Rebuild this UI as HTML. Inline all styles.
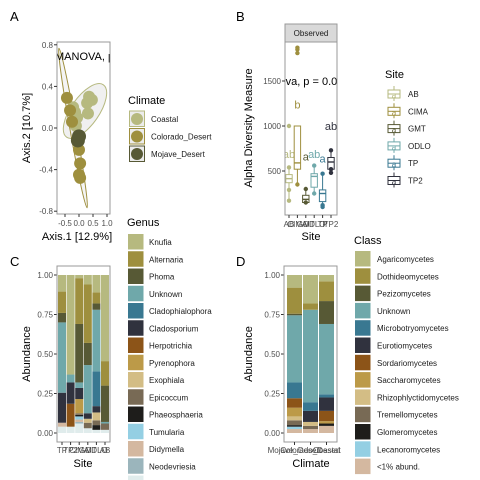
<!DOCTYPE html>
<html><head><meta charset="utf-8"><style>
html,body{margin:0;padding:0;background:#fff;}
svg{display:block;font-family:"Liberation Sans",Arial,sans-serif;}
.tk{font-size:8px;fill:#4d4d4d;}
.at{font-size:11px;fill:#000;}
.lg{font-size:8px;fill:#1a1a1a;}
.lt{font-size:11px;fill:#000;}
.pl{font-size:13px;fill:#000;}
</style></head><body>
<svg id="fig" width="480" height="480" viewBox="0 0 480 480">
<defs>
<clipPath id="clipA"><rect x="57" y="42" width="53" height="172"/></clipPath>
<clipPath id="clipB"><rect x="285" y="42" width="52" height="173"/></clipPath>
</defs>
<text class="pl" x="10" y="21">A</text>
<text class="pl" x="236" y="21">B</text>
<text class="pl" x="10" y="266">C</text>
<text class="pl" x="236" y="266">D</text>
<g id="gA"></g>
<g id="gB"></g>
<g id="gC"></g>
<g id="gD"></g>
</svg>
<script>
// ---------- Panel A data ----------
const climates = ["Coastal","Colorado_Desert","Mojave_Desert"];
const climateColors = ["#b6b97f","#9e8f3e","#575935"];
const ordX = [0.36,0.46,0.29,0.32,-0.21,-0.14,-0.07,-0.11, -0.43,-0.32,-0.25,0.0,0.04,0.0,0.04, 0.0,-0.04];
const ordY = [0.30,0.27,0.24,0.14,0.20,0.15,0.10,0.02, 0.29,0.17,0.06,-0.21,-0.34,-0.45,-0.48, -0.08,-0.12];
const ordGroup = [0,0,0,0,0,0,0,0, 1,1,1,1,1,1,1, 2,2];
const aXTicks = [-0.5,0.0,0.5,1.0];
const aXTickLabels = ["-0.5","0.0","0.5","1.0"];
const aYTicks = [0.8,0.4,0.0,-0.4,-0.8];
const aYTickLabels = ["0.8","0.4","0.0","-0.4","-0.8"];
// ---------- Panel B data ----------
const sites = ["AB","CIMA","GMT","ODLO","TP","TP2"];
const siteColors = ["#b6b97f","#9e8f3e","#575935","#6fa8aa","#397891","#30323e"];
const boxLow = [170,350,140,250,100,480];
const boxQ1 = [370,520,150,320,160,520];
const boxMed = [415,590,185,440,250,600];
const boxQ3 = [460,1000,230,470,290,650];
const boxHigh = [540,1000,300,560,470,730];
const sitePointsY = [[1000,540,290,170],[1810,1850,1870,350],[300,150],[560,250],[470,100,120],[730,480,520]];
const siteLetters = ["ab","b","a","ab","a","ab"];
const siteLetterY = [690,1240,660,690,640,1000];
const bYTicks = [500,1000,1500];
const bYTickLabels = ["500","1000","1500"];
// ---------- Panel C data ----------
const genera = ["Knufia","Alternaria","Phoma","Unknown","Cladophialophora","Cladosporium","Herpotrichia","Pyrenophora","Exophiala","Epicoccum","Phaeosphaeria","Tumularia","Didymella","Neodevriesia","Other"];
const genusColors = ["#b6b97f","#9e8f3e","#575935","#6fa8aa","#397891","#30323e","#8c5418","#bc9a48","#d3bd85","#786a55","#1e1d1b","#94cfe3","#d4b8a0","#9bb5bc","#e0ecec"];
const cSites = ["TP","TP2","CIMA","GMT","ODLO","AB"];
const cKnufia   = [0.105,0.63,0.02,0.06,0.11,0.545];
const cAltern   = [0.135,0,0.29,0.37,0.07,0.155];
const cPhoma    = [0.06,0,0.37,0.14,0.04,0.23];
const cUnknown  = [0.445,0.05,0.035,0.305,0.39,0.01];
const cCladoph  = [0,0,0,0,0.22,0];
const cClados   = [0.19,0.135,0.07,0.035,0.04,0];
const cHerpo    = [0,0.145,0,0,0,0];
const cPyreno   = [0,0,0.09,0,0,0];
const cExoph    = [0,0,0,0.025,0.05,0];
const cEpico    = [0,0,0.01,0.035,0.03,0.04];
const cPhaeo    = [0,0,0.01,0,0.03,0];
const cTumul    = [0,0,0.02,0,0,0];
const cDidym    = [0.025,0,0.015,0,0,0];
const cNeode    = [0,0,0.01,0,0,0];
const cOther    = [0.04,0.04,0.06,0.03,0.02,0.02];
const cSeries = [cKnufia,cAltern,cPhoma,cUnknown,cCladoph,cClados,cHerpo,cPyreno,cExoph,cEpico,cPhaeo,cTumul,cDidym,cNeode,cOther];
const abTicks = [0,0.25,0.5,0.75,1.0];
const abTickLabels = ["0.00","0.25","0.50","0.75","1.00"];
// ---------- Panel D data ----------
const classes = ["Agaricomycetes","Dothideomycetes","Pezizomycetes","Unknown","Microbotryomycetes","Eurotiomycetes","Sordariomycetes","Saccharomycetes","Rhizophlyctidomycetes","Tremellomycetes","Glomeromycetes","Lecanoromycetes","<1% abund."];
const classColors = ["#b6b97f","#9e8f3e","#575935","#6fa8aa","#397891","#30323e","#8c5418","#bc9a48","#d3bd85","#786a55","#1e1d1b","#94cfe3","#d4b8a0"];
const dClimates = ["Mojave_Desert","Colorado_Desert","Coastal"];
const dAgar = [0.08,0.18,0.04];
const dDoth = [0.165,0.04,0.125];
const dPezi = [0.01,0,0.145];
const dUnkn = [0.425,0.585,0.445];
const dMicr = [0.10,0.055,0.02];
const dEuro = [0,0.07,0.085];
const dSord = [0.06,0,0.065];
const dSacc = [0.055,0,0.015];
const dRhiz = [0.025,0.025,0];
const dTrem = [0.03,0.02,0];
const dGlom = [0.01,0,0.015];
const dLeca = [0.015,0,0];
const dLow  = [0.025,0.025,0.045];
const dSeries = [dAgar,dDoth,dPezi,dUnkn,dMicr,dEuro,dSord,dSacc,dRhiz,dTrem,dGlom,dLeca,dLow];

const NS="http://www.w3.org/2000/svg";
function mk(parent,tag,attrs,text){const e=document.createElementNS(NS,tag);for(const k in attrs)e.setAttribute(k,attrs[k]);if(text!==undefined)e.textContent=text;parent.appendChild(e);return e;}

// ===== Panel A =====
(function(){
const g=document.getElementById('gA');
const xA=v=>79+v*28, yA=v=>128-v*104;
const pg=mk(g,'g',{'clip-path':'url(#clipA)'});


let e1=mk(pg,'ellipse',{cx:85,cy:111,rx:32,ry:14,transform:'rotate(-55 85 111)',fill:'#ececec','fill-opacity':0.8,stroke:'#b6b97f','stroke-width':1});

let e2=mk(pg,'ellipse',{cx:73,cy:128,rx:81,ry:3.2,transform:'rotate(80 73 128)',fill:'#ececec','fill-opacity':0.6,stroke:'#9e8f3e','stroke-width':1});

for(let i=0;i<ordX.length;i++){
 const c=mk(pg,'circle',{cx:xA(ordX[i]),cy:yA(ordY[i]),r:ordGroup[i]==2?7:6,fill:climateColors[ordGroup[i]]});
 
}
const mt=mk(pg,'text',{x:55,y:60,'font-size':'11px',fill:'#000'},'MANOVA, p');

const fr=mk(g,'rect',{x:57,y:42,width:53,height:172,fill:'none',stroke:'#999','stroke-width':1});

aYTicks.forEach((v,i)=>{mk(g,'line',{x1:54,x2:57,y1:yA(v),y2:yA(v),stroke:'#333'});
 const t=mk(g,'text',{class:'tk',x:53,y:yA(v)+3,'text-anchor':'end'},aYTickLabels[i]);
 });
aXTicks.forEach((v,i)=>{mk(g,'line',{x1:xA(v),x2:xA(v),y1:214,y2:217,stroke:'#333'});
 const t=mk(g,'text',{class:'tk',x:xA(v),y:226,'text-anchor':'middle'},aXTickLabels[i]);
 });
let t=mk(g,'text',{class:'at',x:77,y:240,'text-anchor':'middle'},'Axis.1   [12.9%]');

t=mk(g,'text',{class:'at',x:0,y:0,'text-anchor':'middle',transform:'translate(30 128) rotate(-90)'},'Axis.2   [10.7%]');

t=mk(g,'text',{class:'lt',x:128,y:104},'Climate');

climates.forEach((c,i)=>{const y=111+i*17.5;
 const lg=mk(g,'g',{});
 mk(lg,'rect',{x:129.5,y:y,width:15,height:15.5,fill:'#ececec',stroke:climateColors[i],'stroke-width':1});
 mk(lg,'circle',{cx:137,cy:y+8,r:6,fill:climateColors[i]});
 mk(lg,'text',{class:'lg',x:151,y:y+11},c);});
})();

// ===== Panel B =====
(function(){
const g=document.getElementById('gB');
const yB=v=>216-v*0.09, xB=i=>289+i*8.4;
let s=mk(g,'rect',{x:285,y:24,width:52,height:18,fill:'#d9d9d9',stroke:'#999'});

let t=mk(g,'text',{x:311,y:36,'text-anchor':'middle','font-size':'8px',fill:'#1a1a1a'},'Observed');

const pg=mk(g,'g',{'clip-path':'url(#clipB)'});
sites.forEach((st,i)=>{const x=xB(i),c=siteColors[i];
 const bx=mk(pg,'g',{});
 mk(bx,'line',{x1:x,x2:x,y1:yB(boxLow[i]),y2:yB(boxQ1[i]),stroke:c});
 mk(bx,'line',{x1:x,x2:x,y1:yB(boxQ3[i]),y2:yB(boxHigh[i]),stroke:c});
 mk(bx,'rect',{x:x-3.2,y:yB(boxQ3[i]),width:6.4,height:yB(boxQ1[i])-yB(boxQ3[i]),fill:'#fff',stroke:c});
 mk(bx,'line',{x1:x-3.2,x2:x+3.2,y1:yB(boxMed[i]),y2:yB(boxMed[i]),stroke:c,'stroke-width':1.4});
 sitePointsY[i].forEach(v=>{const p=mk(bx,'circle',{cx:x,cy:yB(v),r:2.2,fill:c});
  });
 const l=mk(pg,'text',{x:x,y:yB(siteLetterY[i])+4,'text-anchor':'middle','font-size':'11px',fill:c},siteLetters[i]);
 
});
t=mk(pg,'text',{x:266,y:yB(1500)+4,'font-size':'11px',fill:'#000'},'Anova, p = 0.033');

let fr=mk(g,'rect',{x:285,y:42,width:52,height:173,fill:'none',stroke:'#999'});

bYTicks.forEach((v,i)=>{mk(g,'line',{x1:282,x2:285,y1:yB(v),y2:yB(v),stroke:'#333'});
 const tt=mk(g,'text',{class:'tk',x:281,y:yB(v)+3,'text-anchor':'end'},bYTickLabels[i]);
 });
sites.forEach((st,i)=>{mk(g,'line',{x1:xB(i),x2:xB(i),y1:215,y2:218,stroke:'#333'});
 const tt=mk(g,'text',{class:'tk',x:xB(i),y:227,'text-anchor':'middle'},st);
 });
t=mk(g,'text',{class:'at',x:311,y:240,'text-anchor':'middle'},'Site');

t=mk(g,'text',{class:'at',x:0,y:0,'text-anchor':'middle',transform:'translate(252 128) rotate(-90)'},'Alpha Diversity Measure');

t=mk(g,'text',{class:'lt',x:385,y:78},'Site');

sites.forEach((st,i)=>{const y=86+i*17.3,c=siteColors[i];
 const lg=mk(g,'g',{});
 mk(lg,'line',{x1:394,x2:394,y1:y,y2:y+15,stroke:c});
 mk(lg,'rect',{x:388,y:y+4,width:12,height:8,fill:'#fff',stroke:c});
 mk(lg,'line',{x1:388,x2:400,y1:y+8,y2:y+8,stroke:c});
 mk(lg,'text',{x:394,y:y+12,'text-anchor':'middle','font-size':'8px',fill:c},'a');
 mk(lg,'text',{class:'lg',x:408,y:y+11},st);});
})();

function stacked(g,series,colors,cats,barX,barW,yTop,yBot,axisX,prefix){
 const yS=v=>yBot-(yBot-yTop)*v;
 cats.forEach((cat,j)=>{let cum=0;
  for(let k=series.length-1;k>=0;k--){const v=series[k][j];if(v<=0)continue;
   const r=mk(g,'rect',{x:barX(j),y:yS(cum+v),width:barW,height:yS(cum)-yS(cum+v),fill:colors[k]});
   
   cum+=v;}
 });
 abTicks.forEach((v,i)=>{mk(g,'line',{x1:axisX-3,x2:axisX,y1:yS(v),y2:yS(v),stroke:'#333'});
  const t=mk(g,'text',{class:'tk',x:axisX-4,y:yS(v)+3,'text-anchor':'end'},abTickLabels[i]);
  });
}

// ===== Panel C =====
(function(){
const g=document.getElementById('gC');
const bx=j=>58+j*8.6;
stacked(g,cSeries,genusColors,cSites,bx,8,275,433,57,'genus');
let fr=mk(g,'rect',{x:57,y:266,width:53,height:176,fill:'none',stroke:'#999'});

cSites.forEach((s,j)=>{const x=bx(j)+4;mk(g,'line',{x1:x,x2:x,y1:442,y2:445,stroke:'#333'});
 const t=mk(g,'text',{class:'tk',x:x,y:453,'text-anchor':'middle'},s);
 });
let t=mk(g,'text',{class:'at',x:83,y:467,'text-anchor':'middle'},'Site');

t=mk(g,'text',{class:'at',x:0,y:0,'text-anchor':'middle',transform:'translate(30 354) rotate(-90)'},'Abundance');

t=mk(g,'text',{class:'lt',x:127,y:226},'Genus');

genera.forEach((gn,i)=>{const y=234+i*17.25;
 const lg=mk(g,'g',{});
 mk(lg,'rect',{x:128,y:y,width:15.5,height:15.5,fill:genusColors[i]});
 if(gn!=='Other')mk(lg,'text',{class:'lg',x:149,y:y+11},gn);});
})();

// ===== Panel D =====
(function(){
const g=document.getElementById('gD');
const bx=j=>287+j*16;
stacked(g,dSeries,classColors,dClimates,bx,15,275,433,284,'class');
let fr=mk(g,'rect',{x:284,y:266,width:53,height:176,fill:'none',stroke:'#999'});

dClimates.forEach((s,j)=>{const x=bx(j)+7.5;mk(g,'line',{x1:x,x2:x,y1:442,y2:445,stroke:'#333'});
 const t=mk(g,'text',{class:'tk',x:x,y:453,'text-anchor':'middle'},s);
 });
let t=mk(g,'text',{class:'at',x:311,y:467,'text-anchor':'middle'},'Climate');

t=mk(g,'text',{class:'at',x:0,y:0,'text-anchor':'middle',transform:'translate(252 354) rotate(-90)'},'Abundance');

t=mk(g,'text',{class:'lt',x:354,y:244},'Class');

classes.forEach((cl,i)=>{const y=251+i*17.3;
 const lg=mk(g,'g',{});
 mk(lg,'rect',{x:355,y:y,width:15.5,height:15.5,fill:classColors[i]});
 mk(lg,'text',{class:'lg',x:377,y:y+11},cl);});
})();
</script>
</body></html>
